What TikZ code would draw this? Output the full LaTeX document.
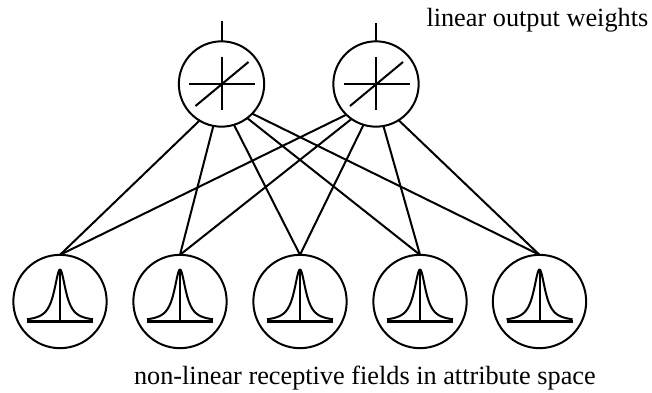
\documentclass[tikz,border=0pt]{standalone}
\usepackage{fontspec}
\setmainfont{Liberation Serif}
\tikzset{
  x=0.75pt,y=-0.75pt,
  every path/.style={line width=1.5pt,line join=round},
  topunit/.style={circle,draw,inner sep=0pt,outer sep=0pt,minimum size=64pt},
  botunit/.style={circle,draw,inner sep=0pt,outer sep=0pt,minimum size=70pt},
  caption/.style={font=\fontsize{19.7}{22}\selectfont,inner sep=0pt,anchor=base west}
}
\newcommand{\bellglyph}[1]{%
  \begin{scope}[shift={(#1)}]
    \draw[line width=2.2pt] (-33,20)--(33,20);
    \draw (0,-32)--(0,20);
    \draw[domain=-33:33,samples=120,smooth] plot (\x,{20-52/(1+(\x/7)*(\x/7))});
  \end{scope}}
\newcommand{\linglyph}[1]{%
  \begin{scope}[shift={(#1)}]
    \draw (-32.5,0)--(33.5,0);
    \draw (0,-27)--(0,26);
    \draw (-26,22)--(27,-22);
  \end{scope}}
\begin{document}
\begin{tikzpicture}
\useasboundingbox (0,0) rectangle (652,392);
\node[topunit] (t1) at (221.5,84) {};
\node[topunit] (t2) at (376,84) {};
\node[botunit] (b1) at (60,301.5) {};
\node[botunit] (b2) at (180,301.5) {};
\node[botunit] (b3) at (300,301.5) {};
\node[botunit] (b4) at (420,301.5) {};
\node[botunit] (b5) at (539.5,301.5) {};
\coordinate (o1) at (221.5,21);
\coordinate (o2) at (376,23);
\draw (t1.north)--(o1);
\draw (t2.north)--(o2);
\linglyph{221.5,84}
\linglyph{376,84}
\bellglyph{60,301.5}
\bellglyph{180,301.5}
\bellglyph{300,301.5}
\bellglyph{420,301.5}
\bellglyph{539.5,301.5}
\draw (t1.239)--(b1.north);
\draw (t1.259)--(b2.north);
\draw (t1.287)--(b3.north);
\draw (t1.307)--(b4.north);
\draw (t1.316)--(b5.north);
\draw (t2.226)--(b1.north);
\draw (t2.235)--(b2.north);
\draw (t2.253)--(b3.north);
\draw (t2.280)--(b4.north);
\draw (t2.302)--(b5.north);
\node[caption] (c1) at (425.5,27) {linear output weights};
\node[caption] (c2) at (133,384) {non-linear receptive fields in attribute space};
\end{tikzpicture}
\end{document}
